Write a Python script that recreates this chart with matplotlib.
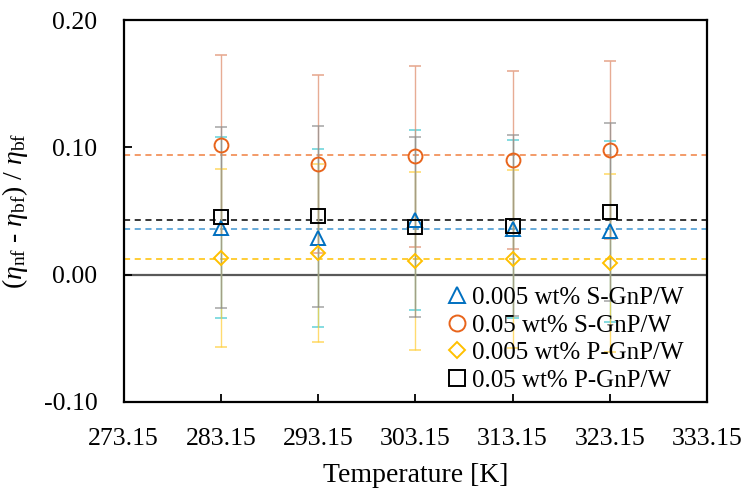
import numpy as np
import matplotlib
matplotlib.use('Agg')
import matplotlib.pyplot as plt

plt.rcParams['font.family'] = ['Liberation Serif', 'DejaVu Serif']
plt.rcParams['mathtext.fontset'] = 'custom'
plt.rcParams['mathtext.rm'] = 'Liberation Serif'
plt.rcParams['mathtext.it'] = 'Liberation Serif:italic'

# temperatures [K]
temps = [283.15, 293.15, 303.15, 313.15, 323.15]

# relative viscosity change (eta_nf - eta_bf) / eta_bf
s_005 = [0.037, 0.029, 0.043, 0.036, 0.034]
s_05 = [0.102, 0.087, 0.093, 0.090, 0.098]
p_005 = [0.013, 0.017, 0.011, 0.0126, 0.0094]
p_05 = [0.045, 0.046, 0.0375, 0.0385, 0.049]

# uncertainties
s_005_err = [0.071, 0.070, 0.071, 0.070, 0.071]
s_05_err = [0.071, 0.070, 0.071, 0.070, 0.070]
p_005_err = [0.070, 0.070, 0.070, 0.070, 0.070]
p_05_err = [0.071, 0.071, 0.071, 0.071, 0.070]

labels = ['0.005 wt% S-GnP/W', '0.05 wt% S-GnP/W',
          '0.005 wt% P-GnP/W', '0.05 wt% P-GnP/W']

series = [
    (s_005, s_005_err, '^', '#0070C0', '#40C8D0', '#3E95D1', 10),
    (s_05, s_05_err, 'o', '#E8641B', '#E09070', '#F08040', 10),
    (p_005, p_005_err, 'D', '#FFC000', '#FFD040', '#FFC000', 7.5),
    (p_05, p_05_err, 's', '#000000', '#909090', '#000000', 9.5),
]

fig = plt.figure(figsize=(7.41, 4.92), dpi=100)
ax = fig.add_axes([0.167, 0.183, 0.787, 0.776])

ax.axhline(0, color='#595959', lw=1.6, zorder=1)

# mean lines
for vals, err, mk, col, ecol, lcol, ms in series:
    ax.axhline(np.mean(vals), color=lcol, lw=1.1, ls=(0, (4, 3)), zorder=1.5)

for i, (vals, err, mk, col, ecol, lcol, ms) in enumerate(series):
    ax.errorbar(temps, vals, yerr=err, fmt='none', ecolor=ecol, elinewidth=1.0,
                capsize=4.5, capthick=1.2, alpha=0.75, zorder=2)

for i, (vals, err, mk, col, ecol, lcol, ms) in enumerate(series):
    ax.plot(temps, vals, ls='none', marker=mk, ms=ms, mfc='none', mec=col,
            mew=1.4, label=labels[i], zorder=3 + i)

ax.set_xlim(273.15, 333.15)
ax.set_ylim(-0.10, 0.20)
ax.set_xticks([273.15, 283.15, 293.15, 303.15, 313.15, 323.15, 333.15])
ax.set_xticklabels(['273.15', '283.15', '293.15', '303.15', '313.15', '323.15', '333.15'])
ax.set_yticks([-0.10, 0.00, 0.10, 0.20])
ax.set_yticklabels(['-0.10', '0.00', '0.10', '0.20'])
ax.tick_params(direction='in', length=6, width=1.3, labelsize=18.5)
ax.tick_params(axis='x', pad=19)
ax.tick_params(axis='y', pad=19)
for sp in ax.spines.values():
    sp.set_linewidth(1.6)

ax.set_xlabel('Temperature [K]', fontsize=20, labelpad=9)
ax.set_ylabel(r'($\eta_\mathrm{nf}$ - $\eta_\mathrm{bf}$) / $\eta_\mathrm{bf}$', fontsize=20, labelpad=10)

ax.legend(loc='lower right', frameon=False, fontsize=18, handletextpad=0.1,
          handlelength=1.0, labelspacing=0.2, borderaxespad=0.2,
          bbox_to_anchor=(0.985, -0.012), markerscale=1.15)

fig.savefig('out.png', dpi=100)
